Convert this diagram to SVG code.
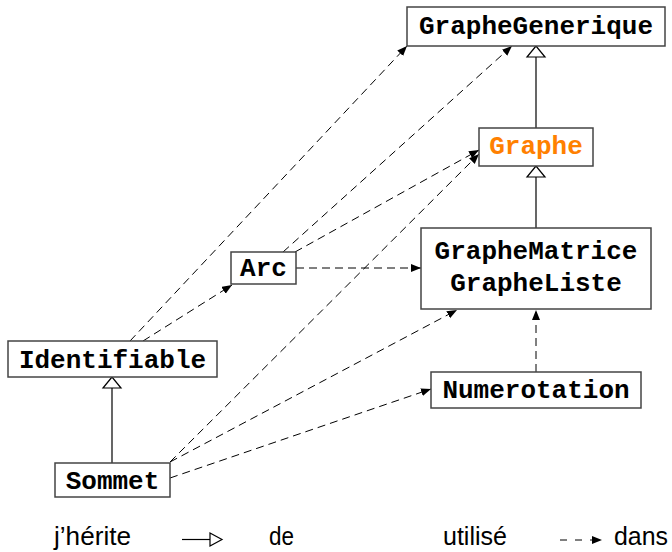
<svg xmlns="http://www.w3.org/2000/svg" width="672" height="552" viewBox="0 0 672 552">
<style>
.box{fill:#fff;stroke:#444;stroke-width:1.5}
.lbl{font-family:"Liberation Mono","Courier New",monospace;font-weight:bold;font-size:26px;fill:#000;text-anchor:middle}
.dash{fill:none;stroke:#000;stroke-width:1;stroke-dasharray:8 5}
.solid{fill:none;stroke:#000;stroke-width:1.2}
.tri{fill:#fff;stroke:#000;stroke-width:1.2}
.leg{font-family:"Liberation Sans",Arial,sans-serif;font-size:26px;fill:#000}
</style>
<defs>
<marker id="ah" markerUnits="userSpaceOnUse" markerWidth="11" markerHeight="9" refX="10" refY="4" orient="auto">
<path d="M0,0 L10,4 L0,8 z" fill="#000"/>
</marker>
</defs>
<rect width="672" height="552" fill="#fff"/>
<g id="connectors">
<line class="solid" x1="536" y1="128" x2="536" y2="57"/>
<polygon class="tri" points="536,46 527,57 545,57"/>
<line class="solid" x1="536" y1="228" x2="536" y2="177"/>
<polygon class="tri" points="536,166 527,177 545,177"/>
<line class="solid" x1="112" y1="463" x2="112" y2="388"/>
<polygon class="tri" points="112,377 103,388 121,388"/>
<line class="dash" x1="130" y1="341" x2="407" y2="46" marker-end="url(#ah)"/>
<line class="dash" x1="143" y1="341" x2="232" y2="285" marker-end="url(#ah)"/>
<line class="dash" x1="283" y1="252" x2="512" y2="46" marker-end="url(#ah)"/>
<line class="dash" x1="295" y1="252" x2="479" y2="150" marker-end="url(#ah)"/>
<line class="dash" x1="296" y1="268" x2="421" y2="268" marker-end="url(#ah)"/>
<line class="dash" x1="170" y1="462" x2="479" y2="154" marker-end="url(#ah)"/>
<line class="dash" x1="170" y1="462" x2="457" y2="310" marker-end="url(#ah)"/>
<line class="dash" x1="170" y1="478" x2="431" y2="389" marker-end="url(#ah)"/>
<line class="dash" x1="536" y1="372" x2="536" y2="310" marker-end="url(#ah)"/>
</g>
<g id="GrapheGenerique">
<rect class="box" x="407" y="7" width="258" height="39"/>
<text class="lbl" x="536" y="34">GrapheGenerique</text>
</g>
<g id="Graphe">
<rect class="box" x="479" y="128" width="114" height="38"/>
<text class="lbl" x="536" y="154" style="fill:#ff8000">Graphe</text>
</g>
<g id="GrapheMatrice">
<rect class="box" x="421" y="228" width="230" height="81"/>
<text class="lbl" x="536" y="259">GrapheMatrice</text>
<text class="lbl" x="536" y="291">GrapheListe</text>
</g>
<g id="Arc">
<rect class="box" x="231" y="252" width="65" height="32"/>
<text class="lbl" x="263.5" y="276">Arc</text>
</g>
<g id="Identifiable">
<rect class="box" x="8" y="341" width="209" height="36"/>
<text class="lbl" x="112.5" y="368">Identifiable</text>
</g>
<g id="Numerotation">
<rect class="box" x="431" y="372" width="210" height="36"/>
<text class="lbl" x="536" y="398">Numerotation</text>
</g>
<g id="Sommet">
<rect class="box" x="55" y="463" width="115" height="34"/>
<text class="lbl" x="112.5" y="489">Sommet</text>
</g>
<g id="legend">
<text class="leg" x="54" y="545" textLength="77" lengthAdjust="spacingAndGlyphs">j’hérite</text>
<line class="solid" x1="182" y1="539.5" x2="210" y2="539.5"/>
<polygon class="tri" points="210,533 222,539.5 210,546"/>
<text class="leg" x="269" y="545" textLength="25" lengthAdjust="spacingAndGlyphs">de</text>
<text class="leg" x="443" y="545" textLength="64" lengthAdjust="spacingAndGlyphs">utilisé</text>
<line x1="560" y1="540" x2="592" y2="540" stroke="#000" stroke-width="1" stroke-dasharray="7 8"/>
<path d="M592,536 L602,540 L592,544 z" fill="#000"/>
<text class="leg" x="614" y="545" textLength="54" lengthAdjust="spacingAndGlyphs">dans</text>
</g>
</svg>
